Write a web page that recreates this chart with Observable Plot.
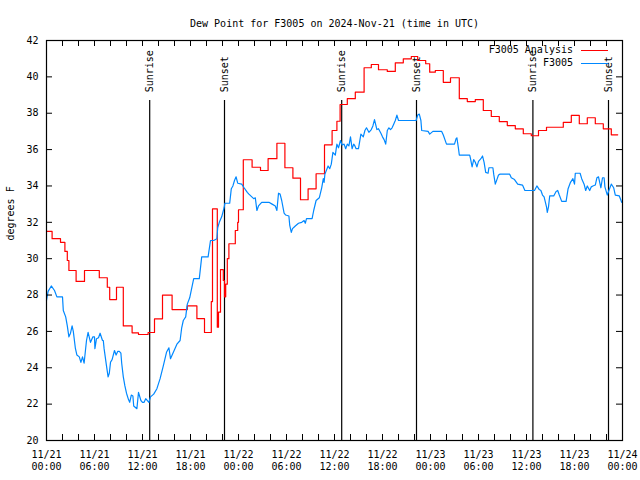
<!DOCTYPE html>
<html><head><meta charset="utf-8">
<script src="https://cdn.jsdelivr.net/npm/d3@7"></script>
<script src="https://cdn.jsdelivr.net/npm/@observablehq/plot@0.6"></script>
<style>
body{margin:0;background:#fff}
#wrap{position:relative;width:640px;height:480px}
#legend{position:absolute;top:43px;right:32px;font:10px "DejaVu Sans Mono",monospace;line-height:13px;text-align:right;color:#000}
#legend .sw{display:inline-block;width:27px;height:0;margin-left:8px;vertical-align:middle;border-top:1px solid}
</style>
</head><body>
<div id="wrap"><div id="legend"><div>F3005 Analysis<span class="sw" style="border-color:#ff0000"></span></div><div>F3005<span class="sw" style="border-color:#0088ff"></span></div></div></div>
<script>
const title = "Dew Point for F3005 on 2024-Nov-21 (time in UTC)";
const yLabel = "degrees F";
const startTime = Date.UTC(2024, 10, 21, 0, 0);

// F3005 Analysis (hours since 11/21 00:00 UTC, step values)
const analysisHours = [0,0.7,1.75,2.3,2.6,2.8,3.7,4.75,6.6,7.6,7.9,8.75,9.6,10.7,11.5,12.7,13.5,14.5,15.7,17.6,18.8,19.75,20.6,20.75,21.35,21.5,21.75,22.1,22.25,22.4,22.6,22.8,23.6,23.9,24.0,24.6,25.7,26.75,27.7,28.8,29.8,30.8,31.75,32.7,33.7,34.75,35.7,36.3,36.7,37.6,38.6,39.7,40.6,41.5,42.6,43.6,44.6,45.6,46.4,47.4,47.9,48.6,49.6,50.5,51.6,52.6,53.6,54.6,55.6,56.6,57.6,58.6,59.6,60.6,61.5,62.5,64.6,65.6,66.6,67.6,68.6,69.6,70.6,71.4];
const analysisValues = [31.5,31.1,30.9,30.4,29.9,29.35,28.75,29.35,28.95,28.43,27.75,28.43,26.3,25.92,25.83,25.94,26.69,28.0,27.2,27.4,26.7,25.94,27.64,32.74,26.23,27.06,29.4,28.8,27.9,28.6,30.0,30.82,31.55,32.0,32.69,35.44,35.03,34.85,35.5,36.35,35.0,34.43,33.24,33.84,34.67,36.26,37.05,37.56,38.48,38.8,39.16,40.5,40.68,40.39,40.3,40.77,40.99,41.12,40.9,40.72,40.26,40.35,39.7,39.95,38.8,38.64,38.75,38.15,37.82,37.54,37.32,37.14,36.87,36.76,37.05,37.23,37.5,37.88,37.42,37.75,37.42,37.14,36.81,36.81];

// F3005 observations
const obsHours = [0.0,0.2,0.6,1.0,1.3,2.0,2.1,2.4,2.6,2.8,3.0,3.2,3.35,3.6,3.8,4.1,4.3,4.5,4.7,5.0,5.2,5.5,5.8,6.0,6.05,6.25,6.5,6.7,7.0,7.1,7.2,7.5,7.7,7.85,8.0,8.2,8.5,8.7,8.9,9.1,9.3,9.4,9.6,9.8,10.0,10.25,10.4,10.6,10.8,10.9,11.3,11.5,11.8,12.0,12.2,12.4,12.8,13.0,13.4,13.8,14.2,14.6,15.0,15.3,15.5,15.9,16.3,16.7,16.9,17.1,17.4,17.6,17.9,18.4,19.1,19.4,20.2,20.5,20.9,21.3,21.4,21.6,21.9,22.2,22.3,22.9,23.1,23.3,23.5,23.7,23.9,24.4,24.7,25.1,25.3,25.9,26.1,26.3,26.5,26.9,27.8,28.2,28.6,28.8,29.0,29.2,29.4,29.7,29.9,30.3,30.4,30.6,30.75,31.1,31.5,31.9,32.2,32.35,32.5,33.2,33.4,33.7,34.1,34.4,34.6,34.7,34.8,35.2,35.4,35.6,35.8,36.1,36.3,36.5,36.75,36.95,37.2,37.4,37.6,37.8,38.0,38.2,38.4,38.55,38.7,39.0,39.3,39.6,39.8,40.0,40.3,40.6,40.8,41.0,41.3,41.5,41.8,42.0,42.2,42.4,42.6,42.8,43.0,43.2,43.4,43.6,43.8,44.0,46.2,46.4,46.6,46.8,46.9,47.7,47.9,48.3,49.4,49.6,50.0,51.0,51.2,51.3,51.5,51.6,52.9,53.0,53.2,53.4,53.6,53.8,54.0,54.3,54.5,54.7,54.9,55.2,55.3,55.8,55.9,56.1,56.3,56.5,56.7,57.9,58.1,58.5,58.9,59.5,59.8,61.0,61.3,61.6,61.8,62.0,62.2,62.5,62.6,62.75,62.9,63.4,63.7,63.9,64.1,64.4,64.95,65.2,65.5,65.8,66.0,66.1,66.7,66.9,67.2,67.4,67.6,67.9,68.1,68.3,68.6,68.8,69.0,69.3,69.5,69.7,69.8,70.1,70.3,70.6,70.9,71.1,71.6,71.9];
const obsValues = [27.7,28.2,28.5,28.25,27.9,27.9,27.15,26.8,26.3,25.7,25.9,26.3,26.0,25.1,24.7,24.6,24.3,24.6,24.25,25.5,25.95,25.4,25.7,25.7,25.05,25.6,25.65,25.9,25.5,25.5,25.05,24.1,23.5,23.7,24.3,24.45,24.95,24.7,24.9,24.9,24.8,24.25,23.5,23.0,22.6,22.25,22.1,22.5,22.45,21.9,21.75,22.65,22.2,22.1,22.1,22.3,22.1,22.4,22.55,22.85,23.4,24.1,24.85,25.1,24.5,24.9,25.3,25.5,26.2,26.6,26.8,27.5,27.85,28.9,28.9,30.1,30.1,31.0,31.0,31.1,31.7,32.0,32.3,32.8,33.05,33.05,33.85,34.0,34.3,34.5,34.15,34.1,33.9,33.65,33.55,33.3,33.35,32.65,32.9,33.1,33.1,33.0,32.9,32.65,33.6,33.55,33.2,32.5,32.4,32.35,31.85,31.45,31.65,31.8,31.95,32.0,32.1,31.95,32.2,32.2,32.65,33.2,33.35,33.9,34.4,34.2,34.65,35.1,34.95,35.2,35.85,35.7,36.3,36.1,36.5,36.25,36.3,36.05,36.3,36.2,36.7,36.05,36.3,36.2,36.05,36.05,36.85,36.7,37.05,37.2,36.95,37.1,37.3,37.65,37.1,37.15,36.9,36.7,36.55,36.3,37.05,37.2,37.1,37.2,37.4,37.6,37.9,37.6,37.6,37.9,37.95,37.6,37.05,37.0,36.85,37.0,37.0,36.8,36.3,36.3,36.6,36.65,36.05,35.7,35.7,35.5,35.05,35.45,35.3,35.05,35.35,35.5,35.65,35.3,34.75,34.7,35.0,35.0,34.65,34.1,34.35,34.6,34.65,34.65,34.45,34.35,34.1,34.05,33.75,33.75,34.0,33.8,33.75,33.5,33.4,32.85,32.55,32.85,33.45,33.45,33.7,33.75,33.5,33.15,33.15,33.85,34.2,34.4,34.1,34.7,34.7,34.4,34.1,33.75,34.0,33.75,33.95,34.0,34.05,34.45,34.5,33.9,34.45,34.45,33.95,33.5,33.75,34.1,33.9,33.5,33.45,33.1];

// Sunrise / sunset (hours since start)
const sunHours = [12.9, 22.25, 36.9, 46.25, 60.8, 70.25];
const sunLabels = ["Sunrise", "Sunset", "Sunrise", "Sunset", "Sunrise", "Sunset"];

// Axis ticks
const yTicks = [20,22,24,26,28,30,32,34,36,38,40,42];
const xLabelHours = [0,6,12,18,24,30,36,42,48,54,60,66,72];
const xMinorHours = [0,2,4,6,8,10,12,14,16,18,20,22,24,26,28,30,32,34,36,38,40,42,44,46,48,50,52,54,56,58,60,62,64,66,68,70,72];

const toDate = h => new Date(startTime + h * 3600e3);
const analysis = analysisHours.map((h, i) => ({t: toDate(h), v: analysisValues[i]}));
const obs = obsHours.map((h, i) => ({t: toDate(h), v: obsValues[i]}));
const sun = sunHours.map((h, i) => ({t: toDate(h), label: sunLabels[i]}));
const xMinor = xMinorHours.map(toDate);
const xLabels = xLabelHours.map(toDate);
const fmt = d3.utcFormat("%m/%d\n%H:%M");

const W = 640, H = 480, ML = 46, MR = 18, MT = 40, MB = 40;
const innerW = W - ML - MR, innerH = H - MT - MB, tl = 6;

const chart = Plot.plot({
  width: W, height: H,
  marginLeft: ML, marginRight: MR, marginTop: MT, marginBottom: MB,
  style: {fontFamily: "'DejaVu Sans Mono', monospace", fontSize: "10px", background: "#fff", color: "#000"},
  x: {type: "utc", domain: [toDate(0), toDate(72)]},
  y: {domain: [20, 42]},
  marks: [
    Plot.ruleX(sun, {x: "t", y1: 38.7, y2: 20, stroke: "#000", strokeWidth: 1.2}),
    Plot.text(sun, {x: "t", y: 39.15, text: "label", rotate: -90, textAnchor: "start", fill: "#000"}),
    Plot.line(analysis, {x: "t", y: "v", curve: "step-after", stroke: "#ff0000", strokeWidth: 1.2}),
    Plot.line(obs, {x: "t", y: "v", stroke: "#0088ff", strokeWidth: 1.2}),
    Plot.tickY(yTicks, {y: d => d, stroke: "#000", insetRight: innerW - tl}),
    Plot.tickY(yTicks, {y: d => d, stroke: "#000", insetLeft: innerW - tl}),
    Plot.tickX(xMinor, {x: d => d, stroke: "#000", insetBottom: innerH - tl}),
    Plot.tickX(xMinor, {x: d => d, stroke: "#000", insetTop: innerH - tl}),
    Plot.frame({stroke: "#000", strokeWidth: 1.2}),
    Plot.axisY({ticks: yTicks, tickSize: 0, tickPadding: 8, label: null}),
    Plot.axisX({ticks: xLabels, tickSize: 0, tickPadding: 9, tickFormat: fmt, lineHeight: 1.2, label: null}),
    Plot.text([title], {frameAnchor: "top", dy: -21, fill: "#000"}),
    Plot.text([yLabel], {frameAnchor: "left", dx: -36, rotate: -90, fill: "#000"})
  ]
});
document.getElementById("wrap").prepend(chart);
</script>
</body></html>
